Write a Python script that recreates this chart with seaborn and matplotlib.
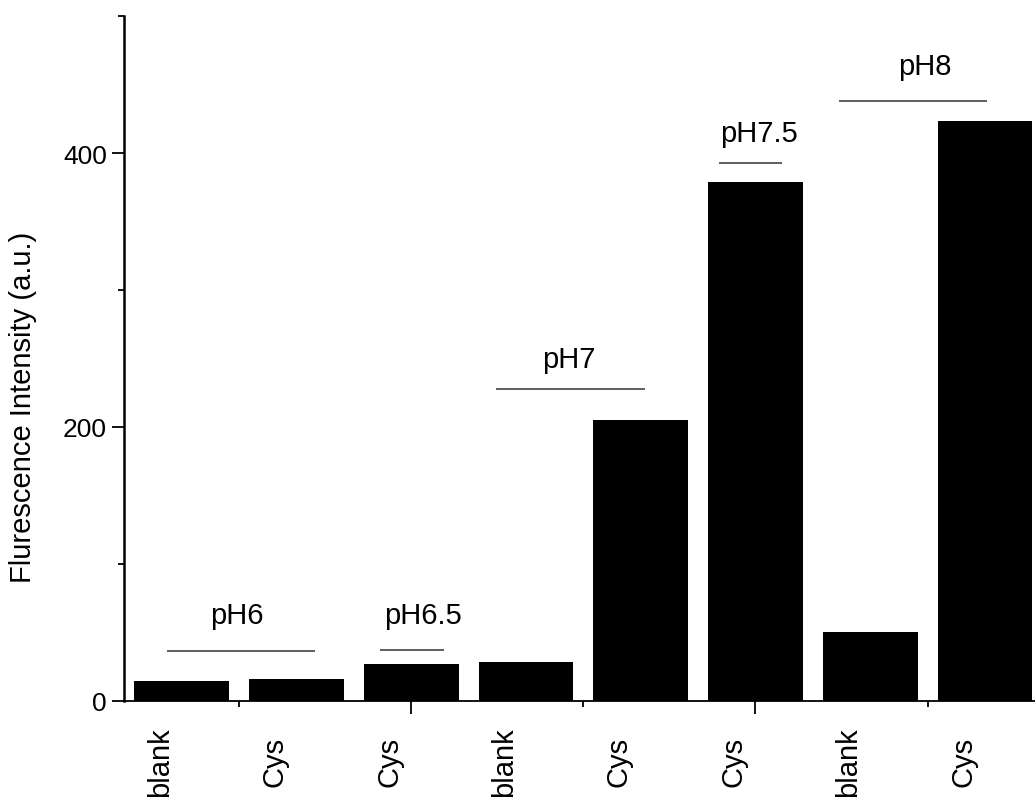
import seaborn as sns
import matplotlib.pyplot as plt
from matplotlib.ticker import FixedLocator, NullFormatter

sns.set_style('ticks')
plt.rcParams['font.family'] = ['Liberation Sans', 'DejaVu Sans']
plt.rcParams['text.color'] = 'black'
plt.rcParams['axes.labelcolor'] = 'black'
plt.rcParams['ytick.labelcolor'] = 'black'

# bar data
positions = [1, 2, 3, 4, 5, 6, 7, 8]
samples = ['blank', 'Cys', 'Cys', 'blank', 'Cys', 'Cys', 'blank', 'Cys']
intensity = [14.2, 15.7, 26.9, 27.9, 205.3, 379.0, 49.8, 423.7]

# pH group brackets (data units)
group_labels = ['pH6', 'pH6.5', 'pH7', 'pH7.5', 'pH8']
line_start = [0.87, 2.73, 3.74, 5.68, 6.73]
line_end = [2.16, 3.29, 5.04, 6.23, 8.02]
line_y = [36.4, 37.1, 227.6, 392.8, 438.3]
label_x = [1.48, 3.10, 4.37, 6.03, 7.48]
label_y = [56.6, 56.6, 244.0, 409.0, 457.7]

fig = plt.figure(figsize=(10.35, 8.03), dpi=100)
ax = fig.add_axes([0.1201, 0.1264, 0.887, 0.8521])

sns.barplot(x=positions, y=intensity, native_scale=True, width=0.826,
            color='black', saturation=1, linewidth=0, ax=ax)

ax.set_xlim(0.5, 8.5)
ax.set_ylim(0, 500)

# axes look
sns.despine(ax=ax)
ax.spines['left'].set_linewidth(1.8)
ax.spines['bottom'].set_linewidth(1.3)
ax.spines['left'].set_color('black')
ax.spines['bottom'].set_color('black')
ax.xaxis.set_major_locator(FixedLocator([3, 6]))
ax.xaxis.set_minor_locator(FixedLocator([1.5, 4.5, 7.5]))
ax.xaxis.set_major_formatter(NullFormatter())
ax.yaxis.set_major_locator(FixedLocator([0, 200, 400]))
ax.yaxis.set_minor_locator(FixedLocator([100, 300, 500]))
ax.tick_params(which='major', direction='out', length=9, width=1.3, labelsize=19, color='black')
ax.tick_params(which='minor', direction='out', length=4.5, width=1.3, color='black')
ax.set_xlabel('')
ax.set_ylabel('Flurescence Intensity (a.u.)', fontsize=21)
ax.yaxis.set_label_coords(-0.095, 0.43)

# sample names under the bars
trans = ax.get_xaxis_transform()
for p, s in zip(positions, samples):
    ax.text(p - 0.19, -0.088, s, transform=trans, rotation=90,
            ha='center', va='center', fontsize=21, clip_on=False)

# pH brackets
ax.hlines(line_y, line_start, line_end, color='#333333', linewidth=1.1)
for lx, ly, lab in zip(label_x, label_y, group_labels):
    ax.text(lx, ly, lab, ha='center', va='baseline', fontsize=21)

fig.savefig('out.png', dpi=100)
